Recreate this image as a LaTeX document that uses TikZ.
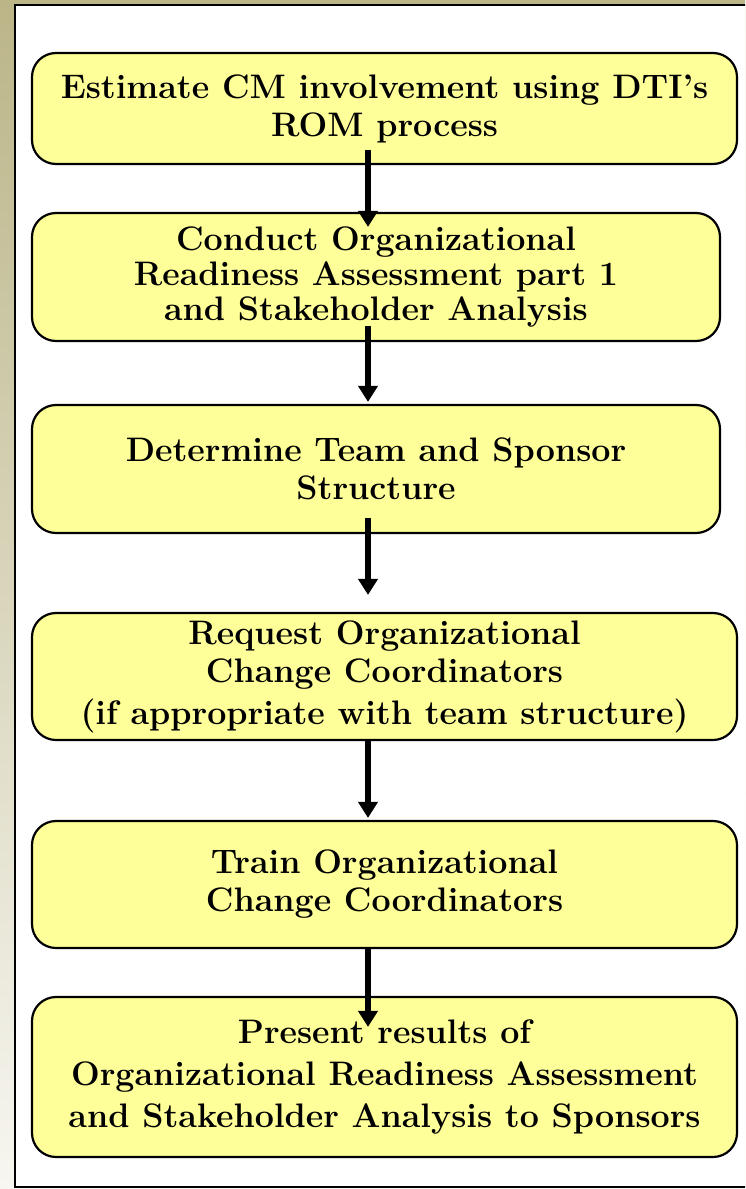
\documentclass[tikz,border=0pt]{standalone}
\usetikzlibrary{arrows.meta, positioning, calc}
\definecolor{boxfill}{RGB}{255, 255, 153}
\definecolor{frameolive}{RGB}{187, 181, 136}
\definecolor{framelight}{RGB}{247, 246, 240}

\begin{document}
\begin{tikzpicture}[x=1pt, y=-1pt,
    stepbox/.style={draw, line width=2.2pt, fill=boxfill, rounded corners=24pt, align=center, inner sep=0pt, font=\fontsize{34}{38}\selectfont\bfseries},
    flow/.style={line width=6pt, -{Triangle[length=16pt, width=19pt]}}
]
    \useasboundingbox (0,0) rectangle (745,1189);
    \clip (0,0) rectangle (745,1189);

    % Background and page frame
    \fill[top color=frameolive, bottom color=framelight] (0,0) rectangle (745,1189);
    \draw[line width=2pt, fill=white] (15,5) rectangle (760,1187);

    % Steps
    \node[stepbox, minimum width=705pt, minimum height=111pt] (est) at (384.5,108.5) {Estimate CM involvement using DTI's\\ROM process};
    \node[stepbox, minimum width=688pt, minimum height=128pt] (cond) at (376,277) {Conduct Organizational\\[-3pt]Readiness Assessment part 1\\[-3pt]and Stakeholder Analysis};
    \node[stepbox, minimum width=688pt, minimum height=128pt] (team) at (376,469) {Determine Team and Sponsor\\Structure};
    \node[stepbox, minimum width=705pt, minimum height=127pt] (req) at (384.5,676.5) {Request Organizational\\Change Coordinators\\[4pt](if appropriate with team structure)};
    \node[stepbox, minimum width=705pt, minimum height=127pt] (train) at (384.5,884.5) {Train Organizational\\Change Coordinators};
    \node[stepbox, minimum width=705pt, minimum height=160pt] (pres) at (384.5,1077) {Present results of\\[4pt]Organizational Readiness Assessment\\[4pt]and Stakeholder Analysis to Sponsors};

    % Arrows between steps
    \coordinate (ax) at (368,0);
    \draw[flow] ($(est.south -| ax)+(0,-15)$) -- ($(cond.north -| ax)+(0,15)$);
    \draw[flow] ($(cond.south -| ax)+(0,-16)$) -- ($(team.north -| ax)+(0,-2)$);
    \draw[flow] ($(team.south -| ax)+(0,-16)$) -- ($(req.north -| ax)+(0,-17)$);
    \draw[flow] (req.south -| ax) -- ($(train.north -| ax)+(0,-2)$);
    \draw[flow] (train.south -| ax) -- ($(pres.north -| ax)+(0,31)$);

\end{tikzpicture}
\end{document}
